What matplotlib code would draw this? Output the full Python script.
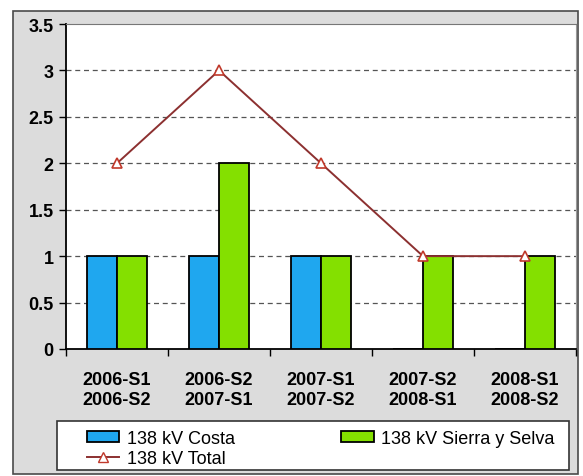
import numpy as np
import matplotlib.pyplot as plt
from matplotlib.patches import Rectangle
from matplotlib.lines import Line2D

plt.rcParams['font.family'] = ['Liberation Sans', 'DejaVu Sans']

# ── Datos ─────────────────────────────────────────────────
periodos = ['2006-S1\n2006-S2', '2006-S2\n2007-S1', '2007-S1\n2007-S2',
            '2007-S2\n2008-S1', '2008-S1\n2008-S2']
costa  = [1, 1, 1, 0, 0]
sierra = [1, 2, 1, 1, 1]
total  = [2, 3, 2, 1, 1]
y_ticks = [0, 0.5, 1, 1.5, 2, 2.5, 3, 3.5]
y_labels = ['0', '0.5', '1', '1.5', '2', '2.5', '3', '3.5']

W, H = 583, 477
fig = plt.figure(figsize=(W / 100, H / 100), dpi=100, facecolor='white')

# marco gris exterior
fig.patches.append(Rectangle((13 / W, 1 - 475 / H), (578 - 13) / W, (475 - 12) / H,
                             transform=fig.transFigure, facecolor='#dcdcdc',
                             edgecolor='#4a4a4a', linewidth=1.2, zorder=-2))

ax = fig.add_axes([66 / W, 1 - 350 / H, (576 - 66) / W, (350 - 25) / H])
ax.set_zorder(2)
ax.set_facecolor('white')

x = np.arange(len(periodos))
ancho = 0.29
ax.bar(x - 0.145, costa, ancho, color='#1fa7ef', edgecolor='black', linewidth=1.3, zorder=3)
ax.bar(x + 0.145, sierra, ancho, color='#84e000', edgecolor='black', linewidth=1.3, zorder=3)
ax.plot(x, total, color='#8c3030', linewidth=1.4, marker='^', markersize=7,
        markerfacecolor='white', markeredgecolor='#c0392b', markeredgewidth=1.2, zorder=4)

ax.set_xlim(-0.5, len(periodos) - 0.5)
ax.set_ylim(0, 3.5)
ax.set_yticks(y_ticks)
ax.set_yticklabels(y_labels, fontsize=13, fontweight='bold')
ax.set_xticks(x)
ax.set_xticklabels(periodos, fontsize=13, linespacing=1.2, fontweight='bold')
ax.set_xticks(np.arange(-0.5, len(periodos)), minor=True)
ax.tick_params(axis='x', which='major', length=0, pad=16)
ax.tick_params(axis='x', which='minor', length=5, width=1, direction='out')
ax.tick_params(axis='y', length=5, width=1, direction='out', pad=4)

for y in y_ticks[1:-1]:
    ax.axhline(y, color='#555555', linestyle=(0, (4, 3)), linewidth=0.9, zorder=1)

ax.spines['left'].set_color('black')
ax.spines['left'].set_linewidth(1.3)
ax.spines['bottom'].set_color('black')
ax.spines['bottom'].set_linewidth(1.3)
ax.spines['top'].set_color('#777777')
ax.spines['right'].set_color('#999999')

# ── Leyenda ───────────────────────────────────────────────
fig.patches.append(Rectangle((57 / W, 1 - 471 / H), (569 - 57) / W, (471 - 422) / H,
                             transform=fig.transFigure, facecolor='white',
                             edgecolor='#333333', linewidth=1.2, zorder=-1))
h_costa = Rectangle((0, 0), 1, 1, facecolor='#1fa7ef', edgecolor='black', linewidth=1.3)
h_sierra = Rectangle((0, 0), 1, 1, facecolor='#84e000', edgecolor='black', linewidth=1.3)
h_total = Line2D([], [], color='#8c3030', linewidth=1.4, marker='^', markersize=7,
                 markerfacecolor='white', markeredgecolor='#c0392b')
leg = fig.legend([h_costa, h_total, h_sierra],
                 ['138 kV Costa', '138 kV Total', '138 kV Sierra y Selva'],
                 ncol=2, loc='upper left', bbox_to_anchor=(76 / W, 1 - 420 / H),
                 frameon=False, fontsize=13, handlelength=1.8, handleheight=0.55,
                 handletextpad=0.4, labelspacing=0.15, columnspacing=5.9,
                 borderpad=0.1)

fig.savefig('out.png', dpi=100)
